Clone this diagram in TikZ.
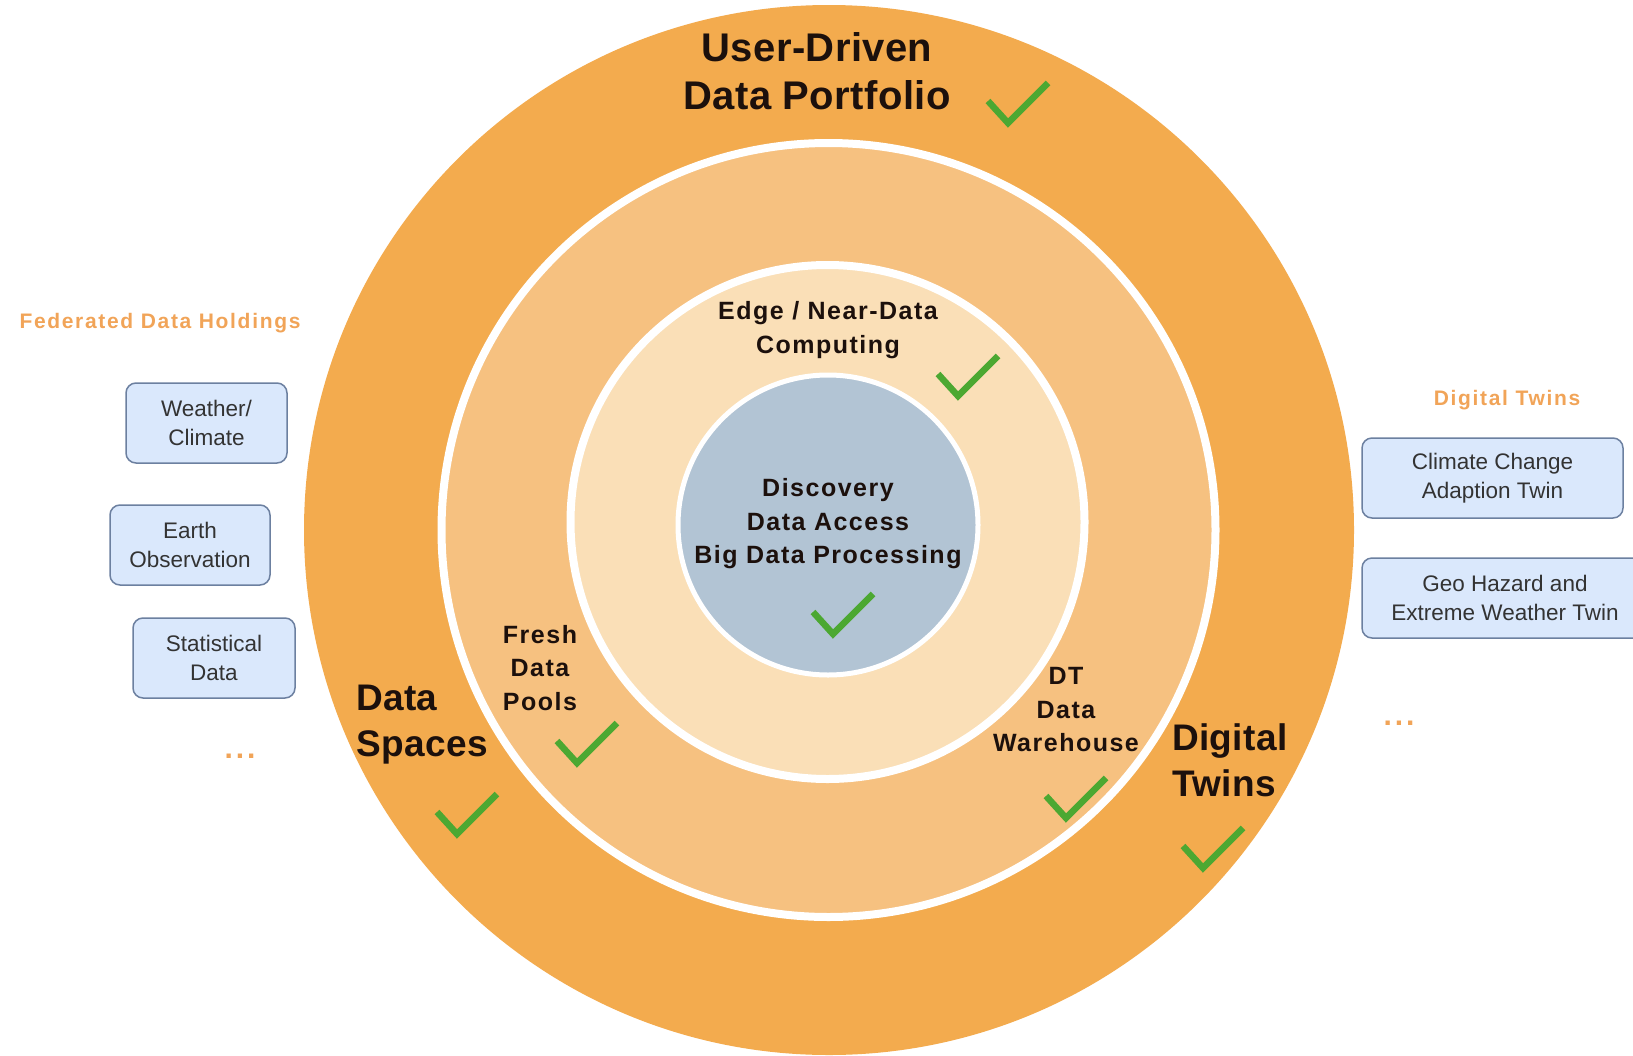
\documentclass[tikz,border=0pt]{standalone}
\usepackage{fontspec}
\setmainfont{Liberation Sans}

\definecolor{ringout}{RGB}{243,171,78}
\definecolor{ringmid}{RGB}{246,193,128}
\definecolor{ringin}{RGB}{250,223,183}
\definecolor{core}{RGB}{178,196,212}
\definecolor{tickgreen}{RGB}{76,168,50}
\definecolor{ink}{RGB}{28,16,12}
\definecolor{boxfill}{RGB}{218,232,252}
\definecolor{boxline}{RGB}{108,128,160}
\definecolor{hdr}{RGB}{241,164,88}

\begin{document}
\begin{tikzpicture}[x=1pt,y=-1pt,
    biglabel/.style={text=ink,inner sep=0,align=left,
      font=\bfseries\fontsize{37}{46}\selectfont\addfontfeatures{LetterSpace=1}},
    ringlabel/.style={text=ink,inner sep=0,align=center,
      font=\bfseries\fontsize{25}{33.5}\selectfont\addfontfeatures{LetterSpace=6}},
    holding/.style={draw=boxline,fill=boxfill,line width=1.5,rounded corners=10,
      minimum height=80,inner sep=0,align=center,text=black!80,
      font=\fontsize{22.5}{29}\selectfont},
    header/.style={text=hdr,inner sep=0,
      font=\bfseries\fontsize{21}{25}\selectfont\addfontfeatures{LetterSpace=8}},
    more/.style={header,font=\bfseries\fontsize{30}{30}\selectfont\addfontfeatures{LetterSpace=10}},
    tick/.pic={\draw[tickgreen,line width=6.5] (-20,-26) -- (0,-4) -- (40,-44);}]
  \useasboundingbox (0,0) rectangle (1633,1055);
  \clip (0,0) rectangle (1633,1055);

  % the rings, outermost first
  \fill[ringout] (829,530) circle (525pt);
  \foreach \cx/\cy/\r/\col/\w in {828.5/530/387/ringmid/8, 827.5/522/257/ringin/8, 828/525/150/core/5}
    \filldraw[fill=\col,draw=white,line width=\w] (\cx,\cy) circle (\r pt);

  % ring texts
  \node[biglabel,align=center,font=\bfseries\fontsize{40}{48}\selectfont\addfontfeatures{LetterSpace=1}]
    (portfolio) at (817,71) {User-Driven\\Data Portfolio};
  \node[ringlabel] (edge) at (828,330) {Edge / Near-Data\\Computing};
  \node[ringlabel] (discovery) at (828,524) {Discovery\\Data Access\\Big Data Processing};
  \node[ringlabel] (pools) at (540,668) {Fresh\\Data\\Pools};
  \node[ringlabel] (warehouse) at (1066,710) {DT\\Data\\Warehouse};
  \node[biglabel,anchor=west] (spaces) at (356,725) {Data\\Spaces};
  \node[biglabel,anchor=west] (twins) at (1172,760) {Digital\\Twins};

  \foreach \p in {(1008,127),(958,400),(833,638),(577,767),(457,838),(1066,822),(1203,872)}
    \pic at \p {tick};

  % federated data holdings
  \node[header,anchor=base] (fedhead) at (160,328) {Federated Data Holdings};
  \node[holding,minimum width=161] (weather) at (206.5,423) {Weather/\\Climate};
  \node[holding,minimum width=160] (earth) at (190,545) {Earth\\Observation};
  \node[holding,minimum width=162] (stats) at (214,658) {Statistical\\Data};
  \node[more] (fedmore) at (240,756) {...};

  % digital twins
  \node[header,anchor=base] (twinhead) at (1507,405) {Digital Twins};
  \node[holding,minimum width=261] (climate) at (1492.5,478) {Climate Change\\Adaption Twin};
  \node[holding,minimum width=286] (geo) at (1505,598) {Geo Hazard and\\Extreme Weather Twin};
  \node[more] (twinmore) at (1399,723) {...};
\end{tikzpicture}
\end{document}
